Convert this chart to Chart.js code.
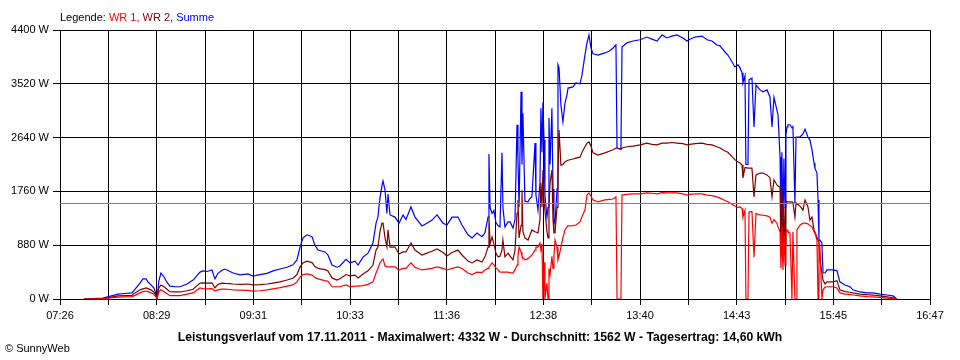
<!DOCTYPE html>
<html>
<head>
<meta charset="utf-8">
<script src="https://cdn.jsdelivr.net/npm/chart.js@4/dist/chart.umd.min.js"></script>
<style>
  body { margin: 0; background: #fff; }
  #wrap { width: 960px; height: 360px; }
</style>
</head>
<body>
<div id="wrap"><canvas id="chart" width="960" height="360"></canvas></div>
<script>
// time of each reading, minutes after midnight
const times = [
  461.5, 473.7, 483.4, 487.9, 492.4, 494.4, 497.6, 499.5, 501.5, 502.7, 504.7, 506.6, 507.9, 508.5, 509.8,
  511.1, 513.1, 515.0, 516.9, 520.2, 523.4, 527.9, 531.8, 536.3, 538.2, 540.8, 544.0, 545.9, 547.9, 550.5,
  552.4, 555.6, 557.6, 562.1, 567.2, 570.4, 575.0, 579.5, 583.3, 587.9, 592.4, 596.2, 598.8, 600.8, 602.7,
  605.3, 608.5, 610.4, 612.4, 616.9, 618.8, 621.4, 624.6, 626.5, 630.4, 633.0, 636.2, 638.2, 641.4, 644.6,
  647.8, 649.8, 651.0, 652.3, 653.6, 654.3, 655.6, 656.8, 657.5, 658.8, 662.0, 664.6, 667.2, 669.1, 672.3,
  674.9, 679.4, 682.6, 685.9, 689.1, 693.0, 695.5, 698.8, 702.6, 705.2, 709.1, 711.7, 714.9, 718.1, 720.0,
  722.0, 722.6, 723.3, 724.6, 725.8, 727.1, 728.4, 729.7, 731.0, 731.6, 732.9, 734.9, 736.2, 738.1, 739.4,
  740.7, 741.3, 742.0, 743.3, 743.9, 744.5, 745.8, 747.8, 749.1, 750.3, 752.3, 752.9, 754.2, 755.5, 756.1,
  756.8, 757.4, 758.1, 758.7, 760.0, 760.7, 761.3, 762.0, 763.2, 763.9, 764.5, 765.2, 766.5, 767.1, 767.8,
  769.0, 770.3, 771.6, 772.9, 773.6, 776.8, 778.7, 781.3, 782.6, 784.5, 785.8, 787.1, 788.4, 789.7, 792.9,
  797.4, 800.6, 802.6, 804.5, 805.2, 807.7, 808.4, 811.6, 815.5, 820.0, 824.5, 827.7, 831.0, 834.2, 837.4,
  840.6, 843.8, 847.7, 850.3, 852.2, 855.5, 860.0, 863.2, 866.4, 869.6, 871.6, 874.8, 876.7, 879.3, 881.2,
  883.2, 884.5, 885.8, 886.4, 887.7, 888.3, 889.6, 890.3, 892.2, 893.5, 894.8, 897.4, 899.3, 901.9, 903.8,
  905.1, 906.4, 908.3, 909.0, 910.3, 910.9, 911.5, 912.2, 912.8, 913.5, 914.1, 914.8, 915.4, 916.7, 918.0,
  918.6, 919.9, 920.6, 921.2, 923.2, 925.1, 926.4, 928.3, 929.6, 930.9, 932.2, 932.8, 934.1, 934.8, 935.4,
  936.0, 937.3, 938.0, 939.3, 940.6, 944.4, 947.0, 948.9, 952.2, 955.4, 957.3, 961.8, 966.4, 970.2, 974.7,
  979.3, 983.1, 985.7
];

const summe = [
  0, 15, 80, 90, 100, 160, 260, 330, 330, 280, 230, 180, 80, 10, 300,
  425, 360, 270, 210, 200, 200, 245, 310, 440, 460, 450, 475, 330, 420, 470,
  490, 450, 425, 395, 410, 375, 400, 420, 460, 490, 520, 560, 640, 850, 1000,
  1050, 1020, 880, 800, 770, 720, 555, 520, 540, 650, 590, 620, 555, 685, 750,
  915, 1240, 1340, 1650, 1850, 1930, 1780, 1400, 1715, 1375, 1340, 1240, 1375, 1300, 1505,
  1340, 1195, 1240, 1290, 1375, 1240, 1210, 1340, 1340, 1210, 1050, 1000, 1080, 1020, 1080,
  1340, 2370, 1500, 1400, 1450, 1250, 1200, 1180, 2390, 1500, 1180, 1260, 1260, 1160, 1300,
  2850, 2300, 1500, 3390, 2200, 3040, 1600, 1590, 1650, 1670, 2550, 1700, 1455, 1900, 3120,
  2400, 3220, 2600, 1700, 1340, 1500, 2960, 2200, 3120, 1800, 1300, 1240, 1800, 3830, 3780,
  3175, 2900, 3200, 3340, 3450, 3470, 3535, 3520, 3665, 3990, 4190, 4320, 4105, 4010, 3990,
  4025, 4060, 4105, 4155, 2470, 2450, 4120, 4190, 4220, 4240, 4285, 4250, 4220, 4320, 4270,
  4300, 4320, 4270, 4220, 4250, 4285, 4300, 4240, 4220, 4155, 4140, 4040, 3990, 3880, 3795,
  3830, 3780, 3700, 3535, 3650, 2200, 2200, 3585, 3615, 2815, 3500, 3420, 3390, 3420, 3305,
  2815, 3300, 3090, 3010, 2320, 1300, 2400, 1200, 2300, 1500, 2685, 2815, 2850, 2850, 2800,
  2820, 1570, 2650, 2650, 2650, 2700, 2780, 2650, 2600, 2440, 2225, 2140, 2060, 1620, 965,
  965, 915, 425, 425, 475, 475, 460, 280, 230, 200, 150, 115, 100, 100, 80,
  65, 50, 0
];

const wr2 = [
  0, 5, 50, 55, 60, 100, 150, 165, 180, 170, 150, 110, 50, 5, 180,
  230, 200, 160, 120, 115, 115, 135, 160, 260, 265, 260, 265, 180, 240, 260,
  255, 250, 245, 240, 245, 230, 235, 245, 260, 280, 310, 340, 400, 525, 590,
  620, 595, 530, 500, 480, 460, 345, 310, 330, 400, 380, 390, 345, 410, 460,
  555, 800, 850, 1100, 1240, 1240, 1000, 850, 1130, 850, 850, 735, 770, 770, 915,
  800, 720, 750, 780, 820, 760, 705, 760, 800, 720, 620, 590, 640, 605, 690,
  850, 1340, 900, 1015, 900, 750, 690, 700, 800, 965, 690, 750, 700, 640, 800,
  1405, 1620, 1000, 1200, 1780, 1100, 1000, 965, 1050, 1130, 1100, 1100, 1080, 1300, 1900,
  1500, 2110, 1620, 1620, 1100, 1000, 1500, 1900, 2110, 1300, 1080, 1080, 1500, 2000, 2765,
  2190, 2200, 2240, 2260, 2270, 2290, 2305, 2320, 2400, 2490, 2550, 2570, 2500, 2390, 2355,
  2390, 2420, 2440, 2470, 2470, 2450, 2470, 2490, 2500, 2520, 2550, 2530, 2520, 2550, 2550,
  2560, 2550, 2540, 2520, 2530, 2540, 2550, 2530, 2520, 2490, 2470, 2420, 2400, 2330, 2280,
  2240, 2225, 2190, 1980, 2150, 2150, 2140, 2140, 2140, 1670, 2030, 2060, 2060, 2030, 1980,
  1670, 1950, 1865, 1850, 1830, 700, 1700, 600, 1500, 900, 1600, 1590, 1590, 1590, 1590,
  1580, 1340, 1570, 1570, 1520, 1455, 1620, 1505, 1290, 1340, 1130, 1130, 1015, 965, 930,
  640, 425, 310, 245, 280, 280, 300, 150, 120, 110, 100, 80, 70, 65, 50,
  35, 20, 0
];

const wr1 = [
  0, 5, 30, 35, 40, 60, 100, 120, 130, 120, 100, 80, 30, 5, 120,
  150, 120, 85, 55, 55, 55, 80, 100, 180, 170, 165, 170, 130, 150, 160,
  160, 155, 150, 145, 140, 130, 135, 150, 165, 185, 210, 230, 280, 360, 400,
  410, 390, 350, 330, 300, 290, 200, 200, 200, 230, 200, 210, 210, 220, 240,
  280, 425, 500, 590, 640, 655, 540, 525, 525, 525, 525, 475, 500, 500, 590,
  520, 475, 490, 500, 525, 500, 475, 500, 525, 500, 425, 400, 440, 430, 475,
  500, 520, 540, 590, 560, 510, 480, 440, 440, 440, 440, 440, 430, 425, 480,
  555, 700, 850, 770, 700, 680, 640, 660, 690, 720, 800, 850, 850, 915, 800,
  900, 0, 600, 0, 260, 0, 500, 400, 700, 500, 700, 965, 850, 640, 700,
  850, 1000, 1130, 1180, 1195, 1200, 1210, 1260, 1350, 1455, 1700, 1735, 1680, 1620, 1590,
  1620, 1630, 1635, 1670, 0, 0, 1700, 1710, 1720, 1720, 1735, 1730, 1720, 1740, 1735,
  1735, 1735, 1720, 1700, 1710, 1720, 1720, 1700, 1690, 1670, 1650, 1610, 1590, 1550, 1520,
  1500, 1505, 1480, 1340, 1450, 0, 0, 1425, 1430, 685, 1400, 1375, 1370, 1360, 1340,
  1240, 1300, 1240, 1180, 1100, 500, 1200, 475, 1100, 550, 1100, 1130, 1100, 1080, 0,
  1100, 0, 0, 1130, 1210, 1240, 1240, 1230, 1200, 1180, 1100, 1080, 965, 0, 900,
  850, 0, 150, 195, 200, 200, 180, 100, 80, 70, 65, 50, 40, 35, 25,
  15, 5, 0
];

const durchschnitt = 1562;
const dayStart = 446;   // 07:26
const dayEnd = 1007;    // 16:47
const xTickLabels = ['07:26', '08:29', '09:31', '10:33', '11:36', '12:38', '13:40', '14:43', '15:45', '16:47'];
const yTicks = [0, 880, 1760, 2640, 3520, 4400];

const legendParts = [
  ['Legende: ', '#000000'],
  ['WR 1, ', '#ff0000'],
  ['WR 2, ', '#800000'],
  ['Summe', '#0000ff']
];
const footer = 'Leistungsverlauf vom 17.11.2011 - Maximalwert: 4332 W - Durchschnitt: 1562 W - Tagesertrag: 14,60 kWh';

const FONT = '"Liberation Sans", Arial, sans-serif';

const points = vals => times.map((t, i) => ({ x: t, y: vals[i] }));

// 18 equal divisions between first and last label
const xTickValues = [];
for (let i = 0; i <= 18; i++) xTickValues.push(dayStart + (dayEnd - dayStart) * i / 18);

const textPlugin = {
  id: 'texts',
  afterDraw(chart) {
    const ctx = chart.ctx;
    ctx.save();
    ctx.textBaseline = 'alphabetic';
    ctx.font = '11px ' + FONT;
    let x = chart.chartArea.left;
    legendParts.forEach(([txt, col]) => {
      ctx.fillStyle = col;
      ctx.fillText(txt, x, 21);
      x += ctx.measureText(txt).width;
    });
    ctx.fillStyle = '#000';
    ctx.fillText('\u00a9 SunnyWeb', 5, 352);
    ctx.font = 'bold 12.2px ' + FONT;
    ctx.textAlign = 'center';
    ctx.fillText(footer, 480, 341);
    ctx.restore();
  }
};

new Chart(document.getElementById('chart'), {
  type: 'line',
  data: {
    datasets: [
      {
        label: 'Durchschnitt',
        data: [{ x: dayStart, y: durchschnitt }, { x: dayEnd, y: durchschnitt }],
        borderColor: '#808080',
        borderWidth: 1,
        order: 0
      },
      { label: 'WR 1', data: points(wr1), borderColor: '#ff0000', borderWidth: 1.2, order: 1 },
      { label: 'WR 2', data: points(wr2), borderColor: '#800000', borderWidth: 1.2, order: 2 },
      { label: 'Summe', data: points(summe), borderColor: '#0000ff', borderWidth: 1.2, order: 3 }
    ]
  },
  options: {
    responsive: false,
    animation: false,
    devicePixelRatio: 1,
    layout: { padding: { left: 0, top: 30, right: 30, bottom: 0 } },
    elements: { point: { radius: 0 }, line: { tension: 0 } },
    plugins: { legend: { display: false }, tooltip: { enabled: false } },
    scales: {
      x: {
        type: 'linear',
        min: dayStart,
        max: dayEnd,
        afterBuildTicks: s => { s.ticks = xTickValues.map(v => ({ value: v })); },
        afterFit: s => { s.height = 61; },
        grid: { color: '#000', lineWidth: 1, tickLength: 6 },
        border: { color: '#000', width: 1 },
        ticks: {
          autoSkip: false,
          maxRotation: 0,
          padding: 4,
          color: '#000',
          font: { family: FONT, size: 11 },
          callback: (v, i) => (i % 2 ? '' : xTickLabels[i / 2])
        }
      },
      y: {
        min: 0,
        max: 4400,
        afterBuildTicks: s => { s.ticks = yTicks.map(v => ({ value: v })); },
        afterFit: s => { s.width = 60; },
        grid: { color: '#000', lineWidth: 1, tickLength: 7 },
        border: { color: '#000', width: 1 },
        ticks: {
          padding: 4,
          color: '#000',
          font: { family: FONT, size: 11 },
          callback: v => v + ' W'
        }
      }
    }
  },
  plugins: [textPlugin]
});
</script>
</body>
</html>
